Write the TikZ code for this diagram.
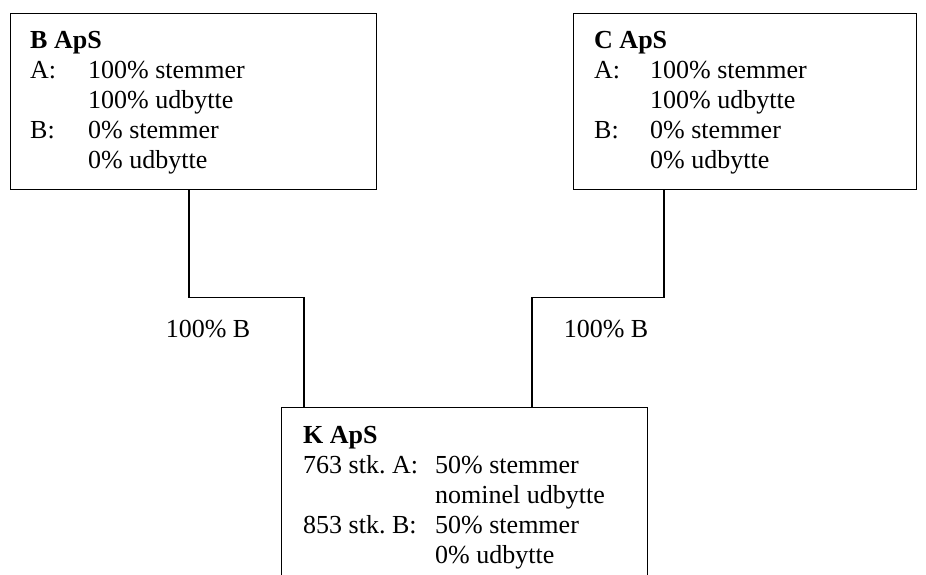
\documentclass[tikz,border=0pt]{standalone}
\usepackage{fontspec}
\setmainfont{Liberation Serif}
\begin{document}
\frenchspacing
\begin{tikzpicture}[x=1pt,y=-1pt,
  company/.style={draw,line width=1.2pt,rectangle,inner sep=0pt,anchor=north west},
  txt/.style={inner sep=0pt,anchor=base west,font=\fontsize{26}{30}\selectfont,align=left},
  conn/.style={line width=1.2pt},
  lbl/.style={inner sep=0pt,font=\fontsize{26}{30}\selectfont}]
\clip (0,0) rectangle (926,574);
\fill[white] (0,0) rectangle (926,574);
% boxes
\node[company,minimum width=366pt,minimum height=176pt] (bbox) at (10,13) {};
\node[company,minimum width=343pt,minimum height=176pt] (cbox) at (573,13) {};
\node[company,minimum width=366pt,minimum height=220pt] (kbox) at (281,407) {};
% texts
\node[txt] (btext) at (30,48) {\begin{tabular}[t]{@{}l@{}l@{}}
\multicolumn{2}{@{}l@{}}{\bfseries B ApS}\\
\makebox[58pt][l]{A:} & 100\% stemmer\\
 & 100\% udbytte\\
\makebox[58pt][l]{B:} & 0\% stemmer\\
 & 0\% udbytte
\end{tabular}};
\node[txt] (ctext) at (594,48) {\begin{tabular}[t]{@{}l@{}l@{}}
\multicolumn{2}{@{}l@{}}{\bfseries C ApS}\\
\makebox[56pt][l]{A:} & 100\% stemmer\\
 & 100\% udbytte\\
\makebox[56pt][l]{B:} & 0\% stemmer\\
 & 0\% udbytte
\end{tabular}};
\node[txt] (ktext) at (303,443) {\begin{tabular}[t]{@{}l@{}l@{}}
\multicolumn{2}{@{}l@{}}{\bfseries K ApS}\\
\makebox[132pt][l]{763 stk. A:} & 50\% stemmer\\
 & nominel udbytte\\
\makebox[132pt][l]{853 stk. B:} & 50\% stemmer\\
 & 0\% udbytte
\end{tabular}};
% connectors
\draw[conn] ([xshift=179pt]bbox.south west) -- ++(0,107) -| ([xshift=23pt]kbox.north west);
\draw[conn] ([xshift=91pt]cbox.south west) -- ++(0,107) -| ([xshift=251pt]kbox.north west);
% labels
\node[lbl] (l1) at (208,329) {100\% B};
\node[lbl] (l2) at (606,329) {100\% B};
\end{tikzpicture}
\end{document}
